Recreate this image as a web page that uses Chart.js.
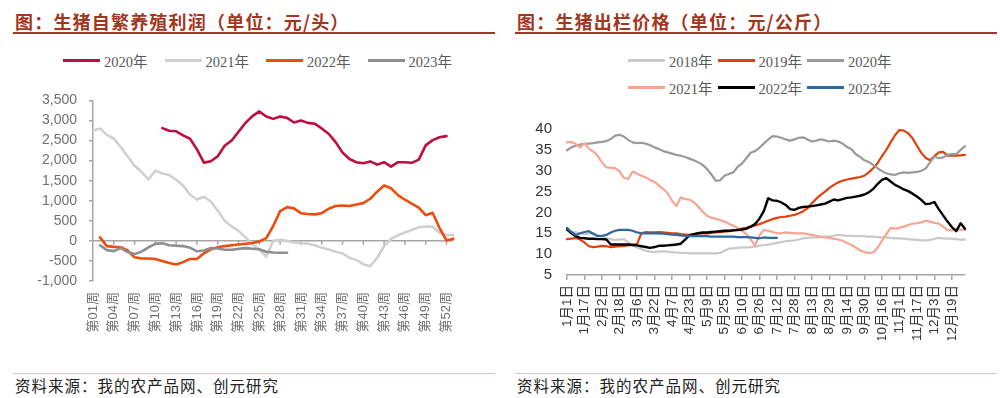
<!DOCTYPE html>
<html>
<head>
<meta charset="utf-8">
<script src="https://cdn.jsdelivr.net/npm/chart.js@4.4.1/dist/chart.umd.min.js"></script>
<style>
  html, body { margin: 0; padding: 0; background: #fff; }
  body { width: 1000px; height: 398px; position: relative; overflow: hidden; font-family: "Noto Sans CJK SC", sans-serif; }
  .title { position: absolute; top: 10px; font-size: 18px; font-weight: bold; color: #A3351D; letter-spacing: 1.2px; line-height: 22px; white-space: nowrap; }
  .rule { position: absolute; top: 32px; height: 2px; background: #A5332E; }
  .foot-rule { position: absolute; top: 373px; height: 1px; background: #E5BDBD; }
  .source { position: absolute; top: 375px; font-size: 15.5px; color: #222; line-height: 20px; letter-spacing: 1px; white-space: nowrap; }
  .legend { position: absolute; display: flex; flex-wrap: wrap; font-family: "Liberation Serif", "Noto Sans CJK SC", serif; font-size: 14.5px; color: #595959; }
  .legend .item { display: flex; align-items: center; height: 27px; }
  .legend .swatch { width: 37px; height: 3px; margin-right: 4px; }
  canvas { position: absolute; }
</style>
</head>
<body>
<div class="title" style="left:15px">图：生猪自繁养殖利润（单位：元/头）</div>
<div class="rule" style="left:13px;width:482px"></div>
<div class="title" style="left:517px">图：生猪出栏价格（单位：元/公斤）</div>
<div class="rule" style="left:515px;width:482px"></div>

<div id="legendLeft" class="legend" style="left:63px;top:47px;width:430px"></div>
<div id="legendRight" class="legend" style="left:628px;top:47px;width:280px"></div>

<canvas id="profitChart" width="480" height="262" style="left:0;top:80px"></canvas>
<canvas id="priceChart" width="500" height="235" style="left:500px;top:105px"></canvas>

<div class="foot-rule" style="left:13px;width:482px"></div>
<div class="source" style="left:15px">资料来源：我的农产品网、创元研究</div>
<div class="foot-rule" style="left:515px;width:482px"></div>
<div class="source" style="left:517px">资料来源：我的农产品网、创元研究</div>

<script>
// ---- 左图：生猪自繁养殖利润（元/头），按周 ----
const weeks = [];
for (let w = 1; w <= 53; w++) weeks.push("第" + String(w).padStart(2, "0") + "周");

const profit2020 = [null, null, null, null, null, null, null, null, null, null,
  2810, 2745, 2730, 2630, 2545, 2280, 1950, 1985, 2110, 2370,
  2500, 2720, 2940, 3110, 3225, 3100, 3040, 3100, 3065, 2950,
  3000, 2940, 2920, 2800, 2670, 2460, 2200, 2040, 1960, 1935,
  1980, 1900, 1960, 1850, 1960, 1960, 1945, 2025, 2380, 2510,
  2580, 2610];
const profit2021 = [2750, 2800, 2640, 2550, 2340, 2100, 1870, 1720, 1530, 1750,
  1680, 1640, 1520, 1380, 1150, 1030, 1100, 980, 750, 500,
  360, 250, 90, -80, -220, -390, 0, 25, 0, -40,
  -60, -70, -110, -170, -215, -270, -310, -420, -480, -580,
  -630, -420, -130, 50, 140, 210, 270, 340, 360, 350,
  200, 145, 145];
const profit2022 = [null, 90, -130, -150, -160, -240, -410, -440, -440, -450,
  -500, -550, -590, -530, -450, -450, -310, -210, -160, -130,
  -110, -90, -70, -55, -15, 70, 370, 740, 840, 810,
  690, 670, 660, 690, 800, 870, 880, 870, 905, 940,
  1050, 1225, 1380, 1310, 1140, 1025, 930, 830, 640, 700,
  320, 10, 55];
const profit2023 = [null, -110, -230, -255, -180, -280, -330, -270, -160, -75,
  -60, -110, -120, -130, -170, -260, -240, -180, -190, -220,
  -220, -200, -180, -195, -210, -270, -290, -295, -295];

// ---- 右图：生猪出栏价格（元/公斤），每4天取一点 ----
const days = [];
for (let d = 0; d < 365; d += 4) {
  const dt = new Date(2023, 0, 1 + d);
  days.push((dt.getMonth() + 1) + "月" + dt.getDate() + "日");
}

const price2018 = [15.6, 15.4, 15.2, 15.0, 14.8, 14.9, 15.0, 14.6, 14.2, 13.8,
  13.6, 13.4, 13.5, 13.6, 12.8, 12.0, 11.6, 11.2, 10.8, 10.6,
  10.5, 10.6, 10.7, 10.6, 10.5, 10.4, 10.3, 10.3, 10.2, 10.2,
  10.2, 10.2, 10.2, 10.2, 10.2, 10.3, 10.8, 11.3, 11.4, 11.5,
  11.6, 11.6, 11.7, 11.8, 12.0, 12.2, 12.3, 12.5, 12.7, 12.9,
  13.1, 13.2, 13.3, 13.5, 13.8, 13.9, 14.0, 14.0, 14.1, 14.2,
  14.2, 14.4, 14.6, 14.5, 14.4, 14.4, 14.3, 14.3, 14.3, 14.2,
  14.2, 14.1, 14.0, 14.0, 13.9, 13.8, 13.8, 13.7, 13.6, 13.5,
  13.4, 13.3, 13.3, 13.4, 13.7, 13.9, 13.8, 13.7, 13.7, 13.6,
  13.5, 13.5];
const price2019 = [13.6, 13.7, 13.9, 13.5, 12.8, 11.9, 11.7, 11.8, 12.0, 11.9,
  11.7, 11.8, 11.9, 12.0, 12.1, 12.3, 12.4, 15.0, 15.3, 15.2,
  15.2, 15.3, 15.2, 15.1, 15.0, 15.0, 14.8, 14.7, 14.6, 14.8,
  15.0, 15.0, 15.0, 15.1, 15.2, 15.3, 15.4, 15.5, 15.7, 15.9,
  16.1, 16.3, 16.6, 16.9, 17.2, 17.6, 18.0, 18.4, 18.7, 18.9,
  19.0, 19.2, 19.4, 19.8, 20.3, 21.0, 22.2, 23.3, 24.2, 25.0,
  25.9, 26.6, 27.2, 27.6, 27.9, 28.1, 28.3, 28.5, 28.8, 29.6,
  30.6, 31.8, 33.5, 35.0, 36.8, 38.5, 39.8, 39.6, 39.0, 37.8,
  36.0, 34.3, 33.1, 32.5, 33.5, 34.4, 34.5, 33.6, 33.6, 33.6,
  33.7, 33.8];
const price2020 = [34.9, 35.6, 36.0, 36.3, 36.4, 36.5, 36.6, 36.8, 36.9, 37.1,
  37.6, 38.4, 38.6, 38.2, 37.4, 36.8, 36.6, 36.7, 36.5, 36.1,
  35.6, 35.2, 34.7, 34.4, 34.1, 33.8, 33.6, 33.3, 32.9, 32.5,
  32.0, 31.4, 30.4, 29.1, 27.6, 27.7, 28.8, 29.2, 29.6, 30.9,
  31.7, 33.0, 34.3, 34.7, 35.5, 36.5, 37.5, 38.3, 38.2, 37.9,
  37.5, 37.2, 37.5, 37.9, 38.0, 37.5, 37.0, 37.2, 37.5, 37.3,
  37.0, 37.2, 37.0, 36.5, 35.7, 35.2, 34.0, 33.3, 32.5, 32.1,
  31.4, 30.6, 29.9, 29.4, 29.1, 29.0, 29.4, 29.6, 29.5, 29.6,
  29.7, 30.0, 30.5, 32.0, 33.4, 33.0, 33.2, 33.8, 34.0, 34.0,
  35.0, 35.9];
const price2021 = [36.8, 36.9, 36.4, 35.6, 36.6, 35.3, 34.6, 33.6, 32.0, 30.8,
  30.7, 30.6, 29.9, 28.3, 28.0, 29.8, 29.3, 28.8, 28.4, 27.8,
  27.3, 26.5, 25.6, 24.6, 22.8, 21.5, 23.6, 23.2, 23.1, 22.4,
  21.4, 20.2, 19.2, 18.7, 18.5, 18.2, 17.8, 17.3, 16.8, 16.3,
  15.6, 14.8, 13.5, 12.1, 14.5, 15.8, 15.6, 15.3, 15.0, 15.0,
  15.2, 15.1, 15.0, 15.0, 15.0, 14.8, 14.6, 14.4, 14.2, 14.0,
  13.9, 13.7, 13.5, 13.2, 12.7, 12.2, 11.6, 10.9, 10.5, 10.3,
  10.4, 11.5, 13.2, 14.8, 16.3, 16.1, 16.3, 16.6, 17.0, 17.3,
  17.4, 17.6, 18.0, 17.8, 17.5, 17.3, 16.6, 15.8, 15.7, 16.0,
  15.9, 15.8];
const price2022 = [16.0, 15.0, 14.3, 13.9, 13.8, 13.7, 13.7, 13.6, 13.6, 13.5,
  12.3, 12.3, 12.3, 12.3, 12.3, 12.2, 12.1, 11.9, 11.7, 11.5,
  11.7, 12.0, 12.0, 12.1, 12.2, 12.3, 12.5, 13.5, 14.5, 14.8,
  15.0, 15.2, 15.2, 15.3, 15.4, 15.5, 15.6, 15.6, 15.7, 15.8,
  15.9, 16.1, 16.6, 17.2, 18.5, 20.3, 23.4, 22.9, 22.8, 22.4,
  21.8, 20.8, 20.6, 21.1, 21.3, 21.4, 21.5, 21.7, 21.9, 22.1,
  22.6, 23.1, 22.9, 23.2, 23.5, 23.6, 23.8, 24.0, 24.3, 24.8,
  25.6, 26.8, 27.8, 28.2, 27.4, 26.6, 26.1, 25.5, 25.1, 24.5,
  23.8, 23.0, 22.0, 22.1, 22.5, 20.8, 19.3, 17.8, 16.5, 15.5,
  17.4, 16.1];
const price2023 = [16.3, 15.3, 14.6, 15.0, 15.3, 15.5, 14.9, 14.3, 14.4, 14.6,
  15.2, 15.6, 15.8, 15.8, 15.8, 15.6, 15.2, 15.0, 15.0, 15.0,
  15.0, 15.0, 14.9, 14.8, 14.7, 14.6, 14.5, 14.4, 14.3, 14.3,
  14.3, 14.3, 14.3, 14.2, 14.2, 14.2, 14.2, 14.2, 14.2, 14.1,
  14.1, 14.1, 14.0, 13.9, 13.8, 14.0, 13.9, 13.9, 13.9];

const axisGray = "#A6A6A6";

// 零轴线和刻度（左图横轴在 0 处）
const zeroLine = {
  id: "zeroLine",
  beforeDatasetsDraw(chart) {
    const { ctx, chartArea, scales } = chart;
    const y0 = scales.y.getPixelForValue(0);
    ctx.save();
    ctx.strokeStyle = axisGray;
    ctx.lineWidth = 1.5;
    ctx.beginPath();
    ctx.moveTo(chartArea.left, y0);
    ctx.lineTo(chartArea.right, y0);
    weeks.forEach((w, i) => {
      if (i > 0 && i % 3 === 0) {
        const px = scales.x.getPixelForValue(i);
        ctx.moveTo(px, y0);
        ctx.lineTo(px, y0 + 4);
      }
    });
    ctx.stroke();
    ctx.restore();
  }
};

function line(label, data, color, width, order) {
  return { label, data, borderColor: color, backgroundColor: color, borderWidth: width, order, spanGaps: false };
}

function buildLegend(el, chart) {
  chart.data.datasets.forEach((ds) => {
    const item = document.createElement("div");
    item.className = "item";
    item.style.marginRight = el.dataset.gap + "px";
    item.innerHTML = `<span class="swatch" style="background:${ds.borderColor}"></span><span>${ds.label}</span>`;
    el.appendChild(item);
  });
}

const common = {
  responsive: false,
  animation: false,
  devicePixelRatio: 1,
  plugins: { legend: { display: false }, tooltip: { enabled: false } },
  elements: { point: { radius: 0 }, line: { tension: 0, borderJoinStyle: "round", borderCapStyle: "round" } }
};

const profitChart = new Chart(document.getElementById("profitChart"), {
  type: "line",
  data: {
    labels: weeks,
    datasets: [
      line("2020年", profit2020, "#C00D3D", 2.6, 4),
      line("2021年", profit2021, "#D0D0D0", 2.6, 3),
      line("2022年", profit2022, "#EE4B0E", 2.6, 2),
      line("2023年", profit2023, "#8E8E8E", 2.6, 1)
    ]
  },
  options: {
    ...common,
    layout: { padding: { left: 0, right: 15, top: 13, bottom: 0 } },
    scales: {
      x: {
        grid: { display: false, drawTicks: false },
        border: { display: false },
        ticks: {
          autoSkip: false, minRotation: 90, maxRotation: 90, padding: 11,
          color: "#707070", font: { family: "'Liberation Sans', 'Noto Sans CJK SC'", size: 13 },
          callback(v, i) { return i % 3 === 0 ? this.getLabelForValue(v) : ""; }
        },
        afterFit(s) { s.height = 61; }
      },
      y: {
        min: -1000, max: 3500,
        ticks: {
          autoSkip: false, stepSize: 500, padding: 12, color: "#707070",
          font: { family: "'Liberation Sans'", size: 14 },
          callback: (v) => v.toLocaleString("en-US")
        },
        grid: { drawOnChartArea: false, drawTicks: true, tickLength: 4, color: axisGray, lineWidth: 1.5 },
        border: { color: axisGray, width: 1.5 },
        afterFit(s) { s.width = 93; }
      }
    }
  },
  plugins: [zeroLine]
});

const priceChart = new Chart(document.getElementById("priceChart"), {
  type: "line",
  data: {
    labels: days,
    datasets: [
      line("2018年", price2018, "#C9C9C9", 2.2, 6),
      line("2019年", price2019, "#E2400E", 2.2, 5),
      line("2020年", price2020, "#9A9A9A", 2.2, 4),
      line("2021年", price2021, "#F8A493", 2.2, 3),
      line("2022年", price2022, "#000000", 2.4, 2),
      line("2023年", price2023, "#2C69A2", 2.2, 1)
    ]
  },
  options: {
    ...common,
    layout: { padding: { left: 0, right: 35, top: 12, bottom: 0 } },
    scales: {
      x: {
        grid: {
          drawOnChartArea: false, drawTicks: true, tickLength: 5, lineWidth: 1.5,
          color: (c) => (c.index % 4 === 0 ? axisGray : "rgba(0,0,0,0)")
        },
        border: { color: axisGray, width: 1.5 },
        ticks: {
          autoSkip: false, minRotation: 90, maxRotation: 90, padding: 5,
          color: "#333", font: { family: "'Liberation Sans', 'Noto Sans CJK SC'", size: 13.5 },
          callback(v, i) { return i % 4 === 0 ? this.getLabelForValue(v) : ""; }
        },
        afterFit(s) { s.height = 65; }
      },
      y: {
        min: 5, max: 40,
        ticks: { autoSkip: false, stepSize: 5, padding: 15, color: "#333", font: { family: "'Liberation Sans'", size: 15 } },
        grid: { display: false, drawTicks: false },
        border: { display: false },
        afterFit(s) { s.width = 67; }
      }
    }
  }
});

const legendLeft = document.getElementById("legendLeft");
legendLeft.dataset.gap = 17;
buildLegend(legendLeft, profitChart);
const legendRight = document.getElementById("legendRight");
legendRight.dataset.gap = 5;
buildLegend(legendRight, priceChart);
</script>
</body>
</html>
